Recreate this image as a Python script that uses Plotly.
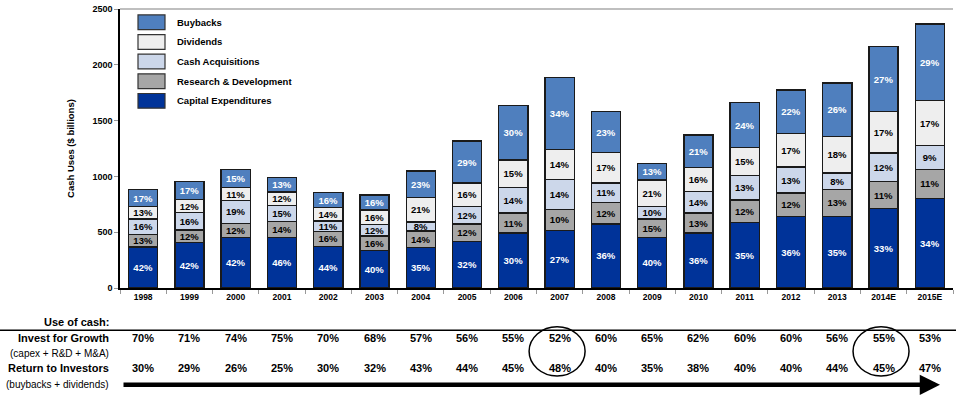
import plotly.graph_objects as go

years = ['1998', '1999', '2000', '2001', '2002', '2003', '2004', '2005', '2006',
         '2007', '2008', '2009', '2010', '2011', '2012', '2013', '2014E', '2015E']
totals = [880, 955, 1062, 989, 854, 834, 1050, 1318, 1637, 1887, 1579, 1115,
          1370, 1661, 1775, 1837, 2163, 2365]

capex_pct = [42, 42, 42, 46, 44, 40, 35, 32, 30, 27, 36, 40, 36, 35, 36, 35, 33, 34]
rd_pct = [13, 12, 12, 14, 16, 16, 14, 12, 11, 10, 12, 15, 13, 12, 12, 13, 11, 11]
acq_pct = [16, 16, 19, 15, 11, 12, 8, 12, 14, 14, 11, 10, 14, 13, 13, 8, 12, 9]
div_pct = [13, 12, 11, 12, 14, 16, 21, 16, 15, 14, 17, 21, 16, 15, 17, 18, 17, 17]
buy_pct = [17, 17, 15, 13, 16, 16, 23, 29, 30, 34, 23, 13, 21, 24, 22, 26, 27, 29]

growth_pct = [70, 71, 74, 75, 70, 68, 57, 56, 55, 52, 60, 65, 62, 60, 60, 56, 55, 53]
return_pct = [30, 29, 26, 25, 30, 32, 43, 44, 45, 48, 40, 35, 38, 40, 40, 44, 45, 47]

y_ticks = [0, 500, 1000, 1500, 2000, 2500]
circled = ['2007', '2014E']

series = [
    ('Capital Expenditures', capex_pct, '#003399', 'white'),
    ('Research & Development', rd_pct, '#A6A6A6', 'black'),
    ('Cash Acquisitions', acq_pct, '#CCD7EA', 'black'),
    ('Dividends', div_pct, '#EEEEEE', 'black'),
    ('Buybacks', buy_pct, '#4F7FBE', 'white'),
]

FONT = 'Arial, Liberation Sans, sans-serif'
sums = [sum(s[1][i] for s in series) for i in range(len(years))]

fig = go.Figure()
for name, pct, color, tcolor in series:
    vals = [totals[i] * pct[i] / sums[i] for i in range(len(years))]
    fig.add_trace(go.Bar(
        x=years, y=vals, name=name,
        marker=dict(color=color, line=dict(color='#1a1a1a', width=1.4)),
        text=[f'{p}%' for p in pct], textposition='inside',
        insidetextanchor='middle', textangle=0, constraintext='none',
        textfont=dict(family=FONT, size=9.5, color=tcolor, weight='bold'),
        width=0.63, hoverinfo='skip', showlegend=False,
    ))

W, H = 958, 395
ML, MR, MT, MB = 120, 5, 4, 107
pw, ph = W - ML - MR, H - MT - MB


def px(x):
    return (x - ML) / pw


def py(y):
    return (H - MB - y) / ph


shapes = []
annotations = []

# custom legend
legend_order = ['Buybacks', 'Dividends', 'Cash Acquisitions', 'Research & Development', 'Capital Expenditures']
colmap = {s[0]: s[2] for s in series}
for k, nm in enumerate(legend_order):
    y0 = 10 + 20 * k
    shapes.append(dict(type='rect', xref='paper', yref='paper',
                       x0=px(138), x1=px(165), y0=py(y0 + 15), y1=py(y0),
                       fillcolor=colmap[nm], line=dict(color='#333333', width=1.2)))
    annotations.append(dict(xref='paper', yref='paper', x=px(175), y=py(y0 + 7.5),
                            text=nm, showarrow=False, xanchor='left', yanchor='middle',
                            font=dict(family=FONT, size=9.5, color='black', weight='bold')))

# top border line
shapes.append(dict(type='line', xref='paper', yref='paper', x0=0, x1=1, y0=1, y1=1,
                   line=dict(color='#AAAAAA', width=1.5)))

# table
annotations.append(dict(xref='paper', yref='paper', x=px(111), y=py(323), text='Use of cash:',
                        showarrow=False, xanchor='right', yanchor='middle',
                        font=dict(family=FONT, size=11, color='black', weight='bold')))
shapes.append(dict(type='line', xref='paper', yref='paper', x0=px(0), x1=px(956),
                   y0=py(331), y1=py(331), line=dict(color='black', width=1.3)))
rows = [('Invest for Growth', 339, True), ('(capex + R&D + M&A)', 355, False),
        ('Return to Investors', 369, True), ('(buybacks + dividends)', 386, False)]
for txt, yy, bold in rows:
    annotations.append(dict(xref='paper', yref='paper', x=px(111), y=py(yy), text=txt,
                            showarrow=False, xanchor='right', yanchor='middle',
                            font=dict(family=FONT, size=11 if bold else 10, color='black',
                                      weight='bold' if bold else 'normal')))
for i, yr in enumerate(years):
    annotations.append(dict(xref='x', yref='paper', x=i, y=py(339), text=f'{growth_pct[i]}%',
                            showarrow=False, xanchor='center', yanchor='middle',
                            font=dict(family=FONT, size=11, color='black', weight='bold')))
    annotations.append(dict(xref='x', yref='paper', x=i, y=py(369), text=f'{return_pct[i]}%',
                            showarrow=False, xanchor='center', yanchor='middle',
                            font=dict(family=FONT, size=11, color='black', weight='bold')))

# circles
for yr in circled:
    i = years.index(yr)
    shapes.append(dict(type='circle', xref='x', yref='paper', x0=i - 0.66, x1=i + 0.55,
                       y0=py(377.5), y1=py(327.5), line=dict(color='black', width=1.5)))

# arrow
annotations.append(dict(xref='paper', yref='paper', x=px(940), y=py(386.5), ax=-(940 - 122), ay=0,
                        axref='pixel', ayref='pixel', text='', showarrow=True,
                        arrowhead=2, arrowsize=0.9, arrowwidth=4.5, arrowcolor='black'))

fig.update_layout(
    width=W, height=H, margin=dict(l=ML, r=MR, t=MT, b=MB),
    paper_bgcolor='white', plot_bgcolor='white',
    barmode='stack', bargap=0.37,
    uniformtext=dict(minsize=9, mode='show'),
    shapes=shapes, annotations=annotations,
    font=dict(family=FONT),
    xaxis=dict(type='category', showline=True, linecolor='black', linewidth=1.5,
               range=[-0.5, len(years) - 0.5],
               ticks='outside', tickson='boundaries', ticklen=4, tickcolor='#999999',
               tickfont=dict(family=FONT, size=8.5, color='black', weight='bold'),
               showgrid=False, fixedrange=True),
    yaxis=dict(range=[0, 2500], tickvals=y_ticks, ticktext=[str(v) for v in y_ticks],
               ticklabeloverflow='allow',
               showline=True, linecolor='black', linewidth=1.5,
               ticks='outside', ticklen=4, tickcolor='#999999',
               tickfont=dict(family=FONT, size=9, color='black', weight='bold'),
               showgrid=False, zeroline=False, fixedrange=True,
               title=dict(text='Cash Uses ($ billions)', standoff=16,
                          font=dict(family=FONT, size=9.5, color='black', weight='bold'))),
)

fig.write_html('out.html', config={'displayModeBar': False},
               post_script="document.body.style.margin='0';document.body.style.overflow='hidden';")
